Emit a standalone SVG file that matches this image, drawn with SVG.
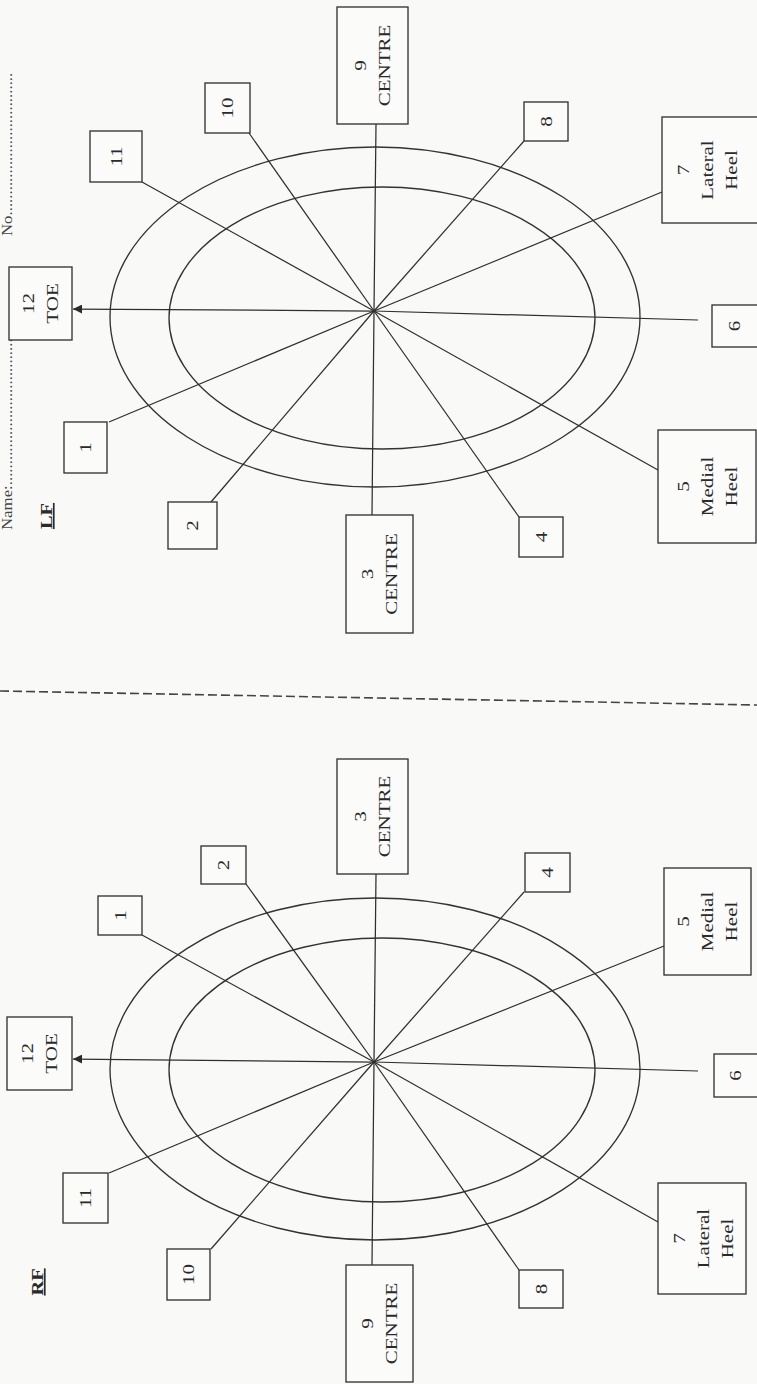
<svg xmlns="http://www.w3.org/2000/svg" width="757" height="1384" viewBox="0 0 757 1384">
<defs>
<style>
.ln{stroke:#2f2f2f;stroke-width:1.25;fill:none}
.el{stroke:#333;stroke-width:1.35;fill:none}
.bx{stroke:#333;stroke-width:1.35;fill:#fbfbfa}
.t{font-family:"Liberation Serif","Times New Roman",serif;font-size:17.5px;fill:#2a2a2a;text-anchor:middle}
.lab{font-family:"Liberation Serif","Times New Roman",serif;font-size:17px;font-weight:bold;fill:#2a2a2a;text-anchor:middle;text-decoration:underline}
.hd{font-family:"Liberation Serif","Times New Roman",serif;font-size:14px;fill:#444;text-anchor:start}
</style>
<marker id="arr" viewBox="0 0 10 10" refX="10" refY="5" markerWidth="9" markerHeight="9" markerUnits="userSpaceOnUse" orient="auto">
<path d="M0,0 L10,5 L0,10 z" fill="#2a2a2a"/>
</marker>
</defs>
<rect x="0" y="0" width="757" height="1384" fill="#f9f9f7"/>

<g id="header">
<text class="hd" transform="translate(12,236) scale(1,1.2) rotate(-90)">No..................................</text>
<text class="hd" transform="translate(12,530) scale(1,1.2) rotate(-90)">Name:....................................</text>
</g>

<g id="divider">
<line x1="0" y1="691" x2="757" y2="705" stroke="#444" stroke-width="1.6" stroke-dasharray="9,4"/>
</g>

<!-- LF diagram -->
<g id="lf-label"><text class="lab" transform="translate(52,516) scale(1,1.2) rotate(-90)">LF</text></g>
<g id="lf-rings">
<ellipse class="el" cx="375" cy="317" rx="265" ry="170"/>
<ellipse class="el" cx="382" cy="318" rx="213" ry="131"/>
</g>
<g id="lf-connectors">
<line class="ln" x1="374" y1="311" x2="73" y2="309" marker-end="url(#arr)"/>
<line class="ln" x1="374" y1="311" x2="698" y2="320"/>
<line class="ln" x1="374" y1="311" x2="109" y2="422"/>
<line class="ln" x1="374" y1="311" x2="211" y2="502"/>
<line class="ln" x1="374" y1="311" x2="372" y2="515"/>
<line class="ln" x1="374" y1="311" x2="519" y2="517"/>
<line class="ln" x1="374" y1="311" x2="658" y2="470"/>
<line class="ln" x1="374" y1="311" x2="662" y2="192"/>
<line class="ln" x1="374" y1="311" x2="524" y2="141"/>
<line class="ln" x1="374" y1="311" x2="376" y2="124"/>
<line class="ln" x1="374" y1="311" x2="249" y2="133"/>
<line class="ln" x1="374" y1="311" x2="142" y2="182"/>
</g>
<g id="lf-12"><rect class="bx" x="9" y="267" width="63" height="73"/><text class="t" transform="translate(40.5,303.5) scale(1,1.2) rotate(-90)"><tspan x="0" y="-6.25">12</tspan><tspan x="0" y="17.75">TOE</tspan></text></g>
<g id="lf-1"><rect class="bx" x="64" y="422" width="43" height="51"/><text class="t" transform="translate(85.5,447.5) scale(1,1.2) rotate(-90)" y="5.75">1</text></g>
<g id="lf-2"><rect class="bx" x="168" y="502" width="49" height="47"/><text class="t" transform="translate(192.5,525.5) scale(1,1.2) rotate(-90)" y="5.75">2</text></g>
<g id="lf-3"><rect class="bx" x="346" y="515" width="67" height="118"/><text class="t" transform="translate(379.5,574) scale(1,1.2) rotate(-90)"><tspan x="0" y="-6.25">3</tspan><tspan x="0" y="17.75">CENTRE</tspan></text></g>
<g id="lf-4"><rect class="bx" x="519" y="517" width="44" height="40"/><text class="t" transform="translate(541,537) scale(1,1.2) rotate(-90)" y="5.75">4</text></g>
<g id="lf-5"><rect class="bx" x="658" y="430" width="98" height="113"/><text class="t" transform="translate(707,486.5) scale(1,1.2) rotate(-90)"><tspan x="0" y="-18.25">5</tspan><tspan x="0" y="5.75">Medial</tspan><tspan x="0" y="29.75">Heel</tspan></text></g>
<g id="lf-6"><rect class="bx" x="712" y="305" width="46" height="42"/><text class="t" transform="translate(734,326) scale(1,1.2) rotate(-90)" y="5.75">6</text></g>
<g id="lf-7"><rect class="bx" x="662" y="117" width="96" height="106"/><text class="t" transform="translate(707,170) scale(1,1.2) rotate(-90)"><tspan x="0" y="-18.25">7</tspan><tspan x="0" y="5.75">Lateral</tspan><tspan x="0" y="29.75">Heel</tspan></text></g>
<g id="lf-8"><rect class="bx" x="524" y="102" width="44" height="39"/><text class="t" transform="translate(546,121.5) scale(1,1.2) rotate(-90)" y="5.75">8</text></g>
<g id="lf-9"><rect class="bx" x="337" y="7" width="71" height="117"/><text class="t" transform="translate(372.5,65.5) scale(1,1.2) rotate(-90)"><tspan x="0" y="-6.25">9</tspan><tspan x="0" y="17.75">CENTRE</tspan></text></g>
<g id="lf-10"><rect class="bx" x="205" y="83" width="45" height="50"/><text class="t" transform="translate(227.5,108) scale(1,1.2) rotate(-90)" y="5.75">10</text></g>
<g id="lf-11"><rect class="bx" x="90" y="131" width="52" height="51"/><text class="t" transform="translate(116,156.5) scale(1,1.2) rotate(-90)" y="5.75">11</text></g>

<!-- RF diagram -->
<g id="rf-label"><text class="lab" transform="translate(43,1282) scale(1,1.2) rotate(-90)">RF</text></g>
<g id="rf-rings">
<ellipse class="el" cx="375" cy="1069" rx="265" ry="171"/>
<ellipse class="el" cx="382" cy="1070" rx="213" ry="132"/>
</g>
<g id="rf-connectors">
<line class="ln" x1="374" y1="1062" x2="73" y2="1059" marker-end="url(#arr)"/>
<line class="ln" x1="374" y1="1062" x2="698" y2="1071"/>
<line class="ln" x1="374" y1="1062" x2="142" y2="935"/>
<line class="ln" x1="374" y1="1062" x2="246" y2="884"/>
<line class="ln" x1="374" y1="1062" x2="376" y2="874"/>
<line class="ln" x1="374" y1="1062" x2="524" y2="892"/>
<line class="ln" x1="374" y1="1062" x2="664" y2="946"/>
<line class="ln" x1="374" y1="1062" x2="658" y2="1222"/>
<line class="ln" x1="374" y1="1062" x2="519" y2="1270"/>
<line class="ln" x1="374" y1="1062" x2="372" y2="1265"/>
<line class="ln" x1="374" y1="1062" x2="211" y2="1249"/>
<line class="ln" x1="374" y1="1062" x2="109" y2="1173"/>
</g>
<g id="rf-12"><rect class="bx" x="7" y="1017" width="65" height="73"/><text class="t" transform="translate(39.5,1053.5) scale(1,1.2) rotate(-90)"><tspan x="0" y="-6.25">12</tspan><tspan x="0" y="17.75">TOE</tspan></text></g>
<g id="rf-1"><rect class="bx" x="98" y="896" width="44" height="39"/><text class="t" transform="translate(120,915.5) scale(1,1.2) rotate(-90)" y="5.75">1</text></g>
<g id="rf-2"><rect class="bx" x="201" y="846" width="45" height="38"/><text class="t" transform="translate(223.5,865) scale(1,1.2) rotate(-90)" y="5.75">2</text></g>
<g id="rf-3"><rect class="bx" x="337" y="759" width="71" height="115"/><text class="t" transform="translate(372.5,816.5) scale(1,1.2) rotate(-90)"><tspan x="0" y="-6.25">3</tspan><tspan x="0" y="17.75">CENTRE</tspan></text></g>
<g id="rf-4"><rect class="bx" x="525" y="853" width="45" height="39"/><text class="t" transform="translate(547.5,872.5) scale(1,1.2) rotate(-90)" y="5.75">4</text></g>
<g id="rf-5"><rect class="bx" x="664" y="868" width="87" height="107"/><text class="t" transform="translate(707.5,921.5) scale(1,1.2) rotate(-90)"><tspan x="0" y="-18.25">5</tspan><tspan x="0" y="5.75">Medial</tspan><tspan x="0" y="29.75">Heel</tspan></text></g>
<g id="rf-6"><rect class="bx" x="714" y="1054" width="44" height="43"/><text class="t" transform="translate(735,1075.5) scale(1,1.2) rotate(-90)" y="5.75">6</text></g>
<g id="rf-7"><rect class="bx" x="658" y="1183" width="88" height="111"/><text class="t" transform="translate(703,1238.5) scale(1,1.2) rotate(-90)"><tspan x="0" y="-18.25">7</tspan><tspan x="0" y="5.75">Lateral</tspan><tspan x="0" y="29.75">Heel</tspan></text></g>
<g id="rf-8"><rect class="bx" x="519" y="1270" width="44" height="38"/><text class="t" transform="translate(541,1289) scale(1,1.2) rotate(-90)" y="5.75">8</text></g>
<g id="rf-9"><rect class="bx" x="346" y="1265" width="67" height="117"/><text class="t" transform="translate(379.5,1323.5) scale(1,1.2) rotate(-90)"><tspan x="0" y="-6.25">9</tspan><tspan x="0" y="17.75">CENTRE</tspan></text></g>
<g id="rf-10"><rect class="bx" x="167" y="1249" width="43" height="51"/><text class="t" transform="translate(188.5,1274.5) scale(1,1.2) rotate(-90)" y="5.75">10</text></g>
<g id="rf-11"><rect class="bx" x="63" y="1173" width="45" height="50"/><text class="t" transform="translate(85.5,1198) scale(1,1.2) rotate(-90)" y="5.75">11</text></g>
</svg>
